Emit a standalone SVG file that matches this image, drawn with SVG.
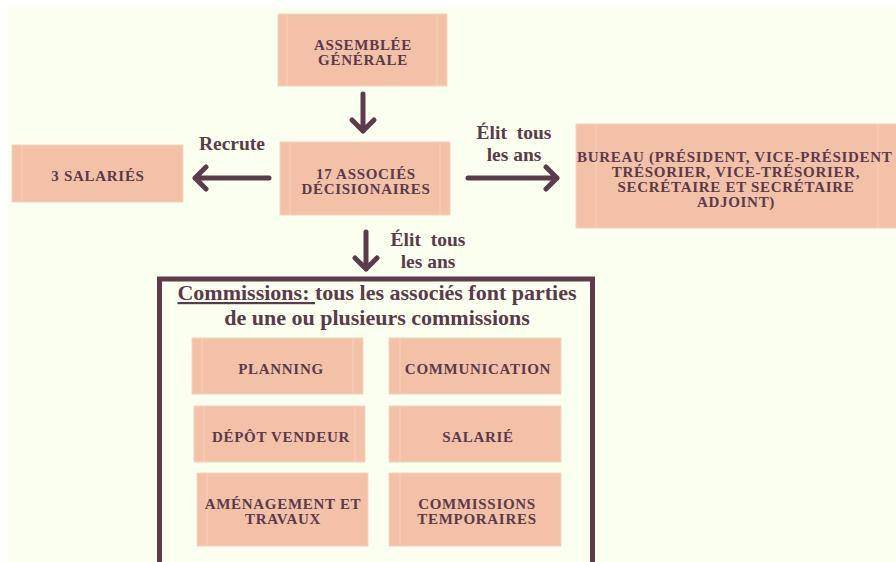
<svg xmlns="http://www.w3.org/2000/svg" width="896" height="562" viewBox="0 0 896 562">
<style>
.box{fill:#f3c0a8;stroke:#f8d3c0;stroke-width:1}
.inl{stroke:#f8d0bd;stroke-width:1}
.t{font-family:"Liberation Serif","Times New Roman",serif;font-weight:bold;font-size:15px;letter-spacing:0.7px;fill:#5b3a4b;text-anchor:middle}
.lab{font-family:"Liberation Serif","Times New Roman",serif;font-weight:bold;font-size:19.5px;fill:#5b3a4b;text-anchor:middle}
.ttl{font-family:"Liberation Serif","Times New Roman",serif;font-weight:bold;font-size:22px;fill:#5b3a4b;text-anchor:middle}
.arr{fill:none;stroke:#5e3a4d;stroke-width:5;stroke-linecap:round;stroke-linejoin:round}
</style>
<rect x="0" y="0" width="896" height="562" fill="#ffffff"/>
<rect x="8" y="7" width="888" height="555" fill="#fbfff0"/>

<g id="assemblee">
<rect class="box" x="278" y="14" width="169" height="72"/>
<line class="inl" x1="287" y1="14" x2="287" y2="86"/><line class="inl" x1="437" y1="14" x2="437" y2="86"/>
<text class="t"><tspan x="363" y="50">ASSEMBLÉE</tspan><tspan x="363" y="65">GÉNÉRALE</tspan></text>
</g>

<g id="salaries">
<rect class="box" x="12" y="145" width="171" height="57"/>
<line class="inl" x1="22" y1="145" x2="22" y2="202"/>
<text class="t" x="98" y="181">3 SALARIÉS</text>
</g>

<g id="associes">
<rect class="box" x="280" y="142" width="170" height="73"/>
<line class="inl" x1="290" y1="142" x2="290" y2="215"/><line class="inl" x1="440" y1="142" x2="440" y2="215"/>
<text class="t"><tspan x="366" y="179">17 ASSOCIÉS</tspan><tspan x="366" y="194">DÉCISIONAIRES</tspan></text>
</g>

<g id="bureau">
<rect class="box" x="576" y="124" width="330" height="104"/>
<line class="inl" x1="596" y1="124" x2="596" y2="228"/><line class="inl" x1="878" y1="124" x2="878" y2="228"/>
<text class="t"><tspan x="577" y="162" text-anchor="start">BUREAU (PRÉSIDENT, VICE-PRÉSIDENT</tspan><tspan x="736" y="177">TRÉSORIER, VICE-TRÉSORIER,</tspan><tspan x="736" y="192">SECRÉTAIRE ET SECRÉTAIRE</tspan><tspan x="736" y="207">ADJOINT)</tspan></text>
</g>

<g id="connectors">
<path class="arr" d="M363 94 V131 M352 120 L363 131 L374 120"/>
<path class="arr" d="M269 178 H195 M206 167 L195 178 L206 189"/>
<path class="arr" d="M468 178 H557 M546 167 L557 178 L546 189"/>
<path class="arr" d="M366 232 V269 M355 258 L366 269 L377 258"/>
<text class="lab" x="232" y="150">Recrute</text>
<text class="lab" xml:space="preserve"><tspan x="514" y="139">Élit  tous</tspan><tspan x="514" y="161">les ans</tspan></text>
<text class="lab" xml:space="preserve"><tspan x="428" y="246">Élit  tous</tspan><tspan x="428" y="268">les ans</tspan></text>
</g>

<g id="commissions">
<rect x="159.5" y="279" width="433" height="300" fill="none" stroke="#5e3a4d" stroke-width="5"/>
<text class="ttl"><tspan x="377" y="300"><tspan text-decoration="underline">Commissions: </tspan>tous les associés font parties</tspan><tspan x="377" y="325">de une ou plusieurs commissions</tspan></text>
</g>

<g id="planning">
<rect class="box" x="192" y="338" width="171" height="56"/>
<line class="inl" x1="202" y1="338" x2="202" y2="394"/><line class="inl" x1="353" y1="338" x2="353" y2="394"/>
<text class="t" x="281" y="374">PLANNING</text>
</g>
<g id="communication">
<rect class="box" x="389" y="338" width="172" height="56"/>
<line class="inl" x1="400" y1="338" x2="400" y2="394"/>
<text class="t" x="478" y="374">COMMUNICATION</text>
</g>
<g id="depot">
<rect class="box" x="194" y="406" width="171" height="56"/>
<line class="inl" x1="204" y1="406" x2="204" y2="462"/><line class="inl" x1="355" y1="406" x2="355" y2="462"/>
<text class="t" x="281" y="442">DÉPÔT VENDEUR</text>
</g>
<g id="salarie">
<rect class="box" x="389" y="406" width="172" height="56"/>
<line class="inl" x1="400" y1="406" x2="400" y2="462"/>
<text class="t" x="478" y="442">SALARIÉ</text>
</g>
<g id="amenagement">
<rect class="box" x="197" y="473" width="171" height="73"/>
<line class="inl" x1="207" y1="473" x2="207" y2="546"/>
<text class="t"><tspan x="283" y="509">AMÉNAGEMENT ET</tspan><tspan x="283" y="524">TRAVAUX</tspan></text>
</g>
<g id="temporaires">
<rect class="box" x="389" y="473" width="172" height="73"/>
<line class="inl" x1="400" y1="473" x2="400" y2="546"/>
<text class="t"><tspan x="477" y="509">COMMISSIONS</tspan><tspan x="477" y="524">TEMPORAIRES</tspan></text>
</g>
</svg>
